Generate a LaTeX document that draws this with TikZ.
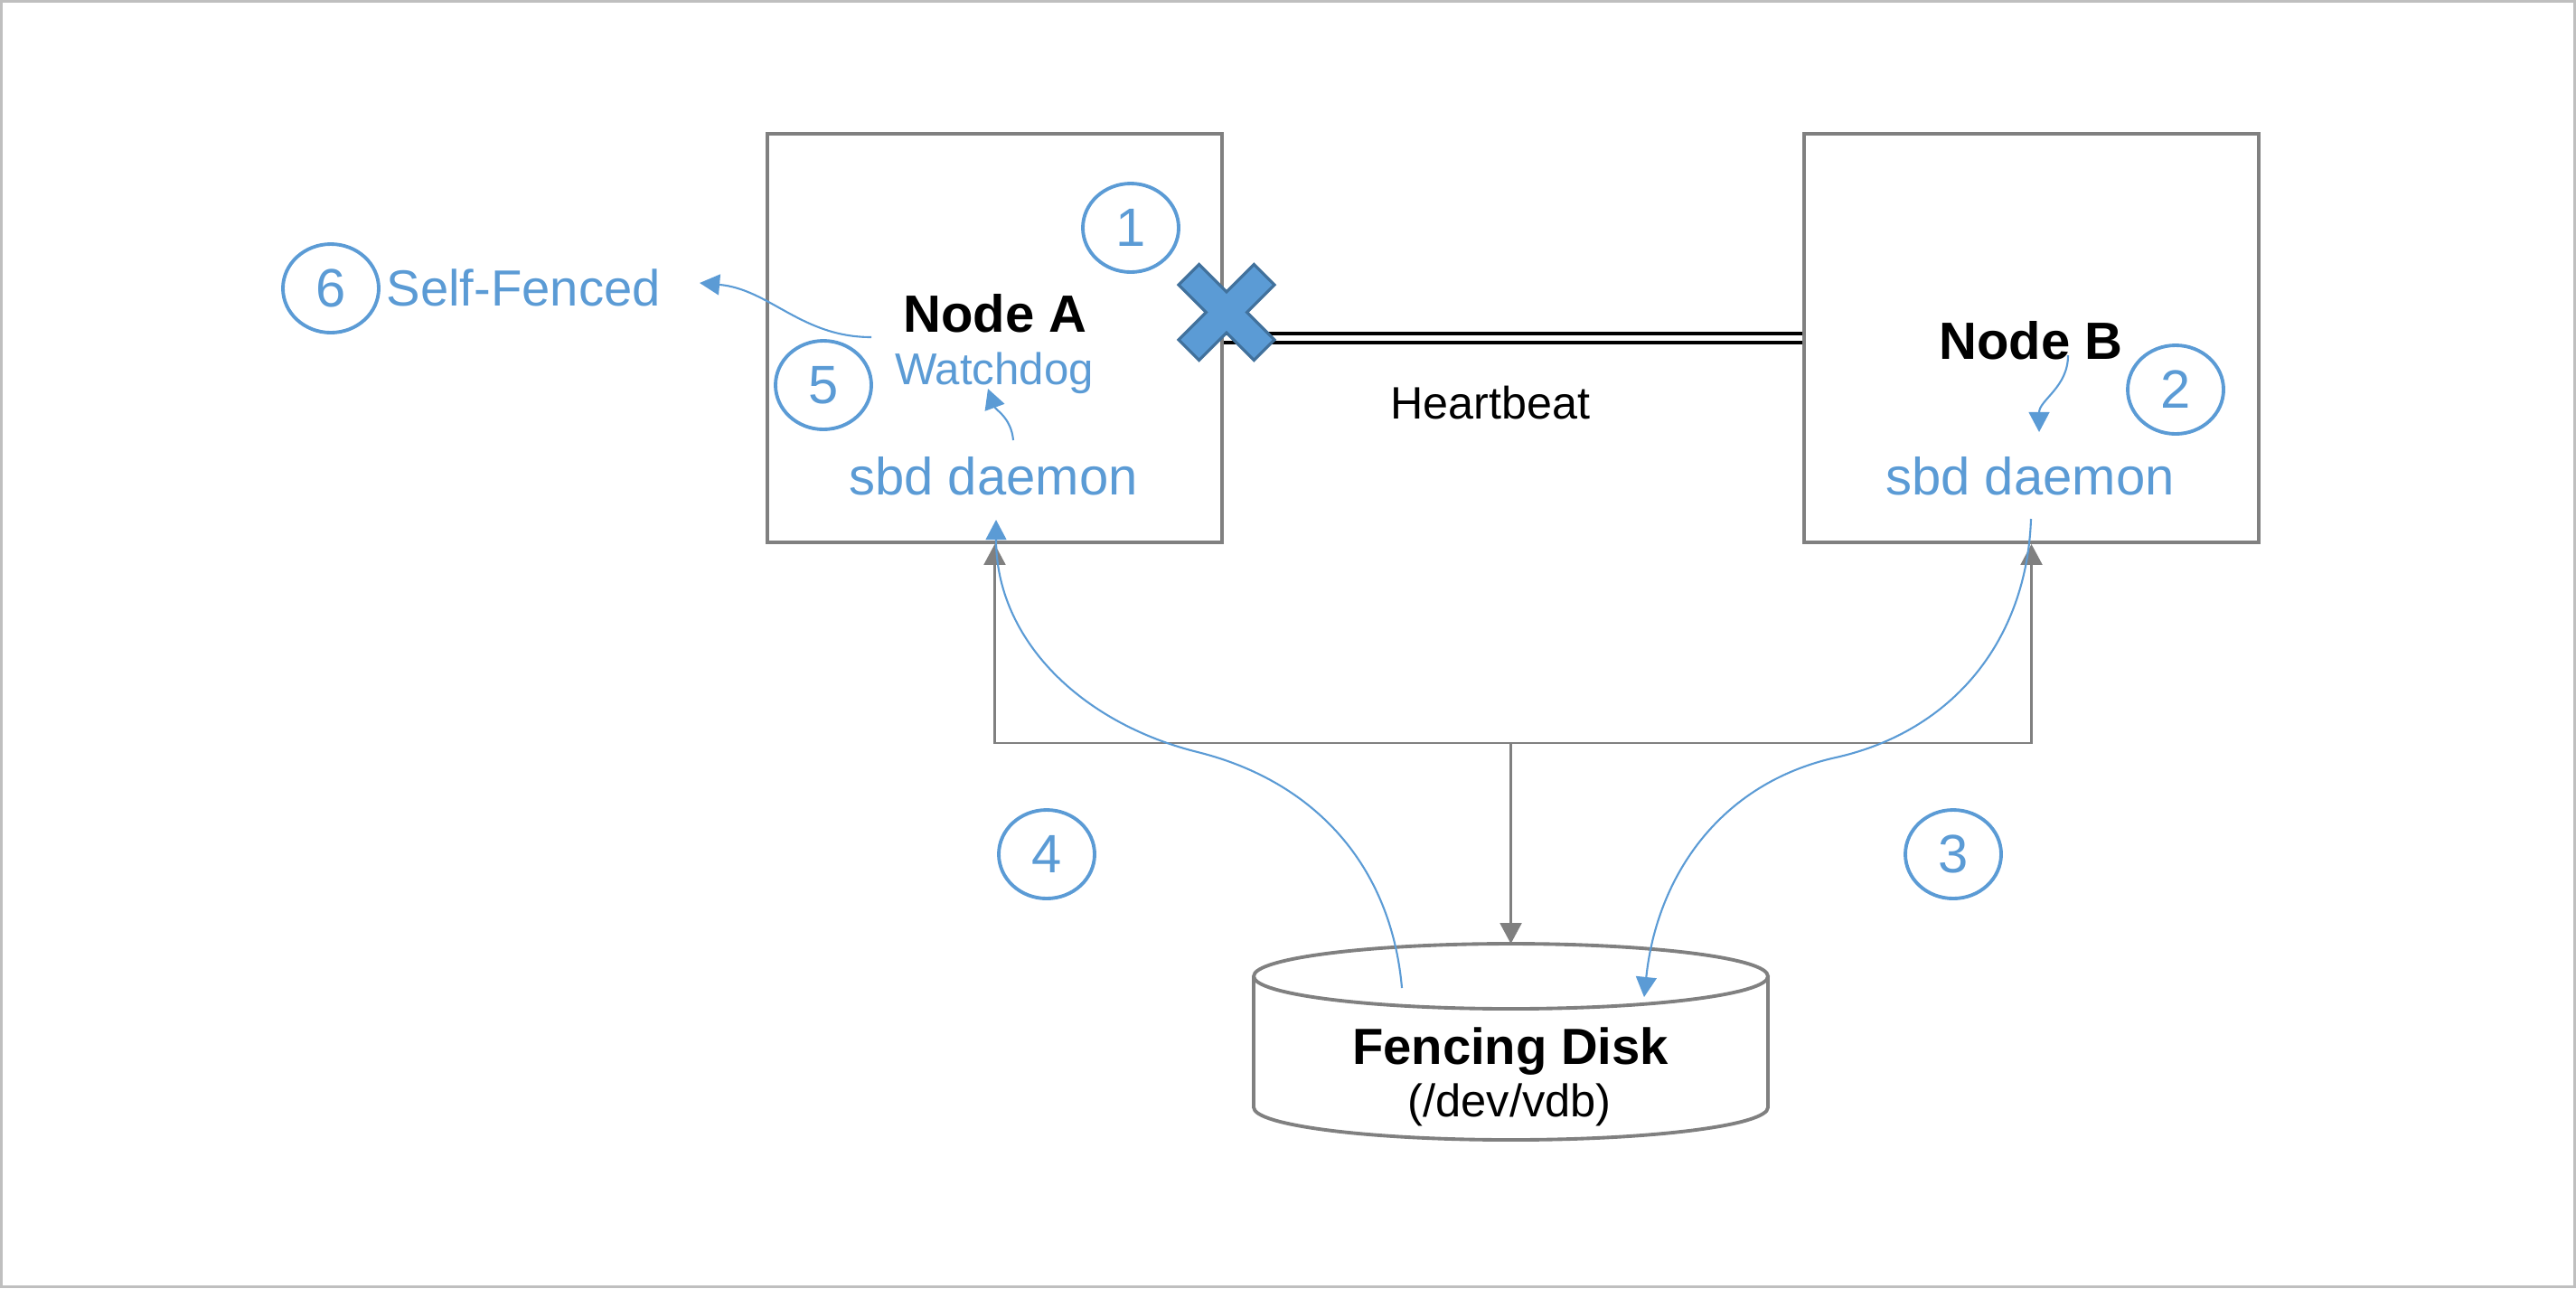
\documentclass[tikz,border=0pt]{standalone}
\usepackage{fontspec}
\setmainfont{Liberation Sans}
\usepackage{tikz}
\usetikzlibrary{arrows.meta, shapes.geometric, positioning}
\definecolor{SBD_Blue}{HTML}{5B9BD5}
\definecolor{SBD_Edge}{HTML}{41719C}
\definecolor{SBD_Gray}{HTML}{808080}
\definecolor{SBD_Frame}{HTML}{BFBFBF}

\tikzset{
  hostbox/.style={draw=SBD_Gray, line width=1.1pt, minimum width=5.03cm, minimum height=4.52cm, inner sep=0pt},
  hosttitle/.style={anchor=base, inner sep=0pt, font=\fontsize{16.5}{20}\selectfont\bfseries},
  bluelbl/.style={anchor=base, inner sep=0pt, text=SBD_Blue, font=\fontsize{16.5}{20}\selectfont},
  stepnum/.style={ellipse, draw=SBD_Blue, line width=1.1pt, minimum width=1.06cm, minimum height=0.98cm,
    inner sep=0pt, text=SBD_Blue, font=\fontsize{17}{20}\selectfont},
  busline/.style={draw=SBD_Gray, line width=0.6pt},
  bustip/.style={busline, -{Triangle[length=6.5pt, width=6.8pt]}},
  flow/.style={draw=SBD_Blue, line width=0.6pt, -{Triangle[length=6.3pt, width=6.5pt]}},
}

\begin{document}
\begin{tikzpicture}
    % Frame
    \useasboundingbox (0,0) rectangle (28.5,-14.25);
    \draw[SBD_Frame, line width=0.85pt] (0.015,-0.015) rectangle (28.485,-14.235);

    % Hosts
    \node[hostbox] (boxA) at (11.005,-3.74) {};
    \node[hostbox] (boxB) at (22.475,-3.74) {};
    \node[hosttitle] (titleA) at (11.01,-3.67) {Node A};
    \node[hosttitle] (titleB) at (22.47,-3.97) {Node B};
    \node[bluelbl, font=\fontsize{14}{17}\selectfont] (dogA) at (11.00,-4.25) {Watchdog};
    \node[bluelbl] (sbdA) at (10.99,-5.47) {sbd daemon};
    \node[bluelbl] (sbdB) at (22.46,-5.47) {sbd daemon};

    % Heartbeat link
    \draw[line width=1.15pt, double, double distance=1.7pt] (boxA.east) -- (boxB.west);
    \node[anchor=base, inner sep=0pt, font=\fontsize{14.3}{17}\selectfont] (beat) at (16.49,-4.63) {Heartbeat};

    % Broken link mark
    \draw[fill=SBD_Blue, draw=SBD_Edge, line width=0.9pt, shift={(13.57,-3.455)}, rotate=45]
        (0.16,0.16) -- (0.59,0.16) -- (0.59,-0.16) -- (0.16,-0.16) -- (0.16,-0.59) -- (-0.16,-0.59)
        -- (-0.16,-0.16) -- (-0.59,-0.16) -- (-0.59,0.16) -- (-0.16,0.16) -- (-0.16,0.59) -- (0.16,0.59) -- cycle;

    % Fencing disk
    \draw[SBD_Gray, line width=1.1pt, fill=white] (13.87,-10.80) -- (13.87,-12.25)
        arc[start angle=180, end angle=360, x radius=2.845, y radius=0.36] -- (19.56,-10.80);
    \draw[SBD_Gray, line width=1.1pt] (16.715,-10.80) ellipse [x radius=2.845, y radius=0.36];
    \coordinate (diskTop) at (16.715,-10.44);
    \node[hosttitle, font=\fontsize{16}{19}\selectfont\bfseries] (disk) at (16.71,-11.77) {Fencing Disk};
    \node[anchor=base, inner sep=0pt, font=\fontsize{14.4}{17}\selectfont] (dev) at (16.70,-12.35) {(/dev/vdb)};

    % Shared access
    \coordinate (busL) at (11.005,-8.22);
    \coordinate (busR) at (22.475,-8.22);
    \coordinate (busM) at (16.715,-8.22);
    \draw[busline, {Triangle[length=6.5pt, width=6.8pt]}-{Triangle[length=6.5pt, width=6.8pt]}]
        (boxA.south) -- (busL) -- (busR) -- (boxB.south);
    \draw[bustip] (busM) -- (diskTop);

    % Steps
    \node[stepnum] (s1) at (12.51,-2.52) {1};
    \node[stepnum] (s2) at (24.07,-4.31) {2};
    \node[stepnum] (s3) at (21.61,-9.45) {3};
    \node[stepnum] (s4) at (11.58,-9.45) {4};
    \node[stepnum] (s5) at (9.11,-4.26) {5};
    \node[stepnum] (s6) at (3.66,-3.19) {6};
    \node[bluelbl, anchor=base west, font=\fontsize{16}{19}\selectfont] (fenced) at (4.27,-3.38) {Self-Fenced};

    % Flows
    \coordinate (lossB) at (22.88,-3.93);
    \coordinate (seeB) at (22.56,-4.78);
    \draw[flow] (lossB) to[out=-90, in=90] (seeB);

    \coordinate (writeB) at (22.47,-5.74);
    \coordinate (midB) at (20.31,-8.38);
    \coordinate (slotA) at (18.19,-11.03);
    \draw[flow] (writeB) to[out=-92, in=12.6] (midB) to[out=-167.4, in=84] (slotA);

    \coordinate (pillA) at (15.51,-10.93);
    \coordinate (midA) at (13.25,-8.32);
    \coordinate (readA) at (11.02,-5.75);
    \draw[flow] (pillA) to[out=95, in=-14] (midA) to[out=166, in=-90] (readA);

    \coordinate (feedA) at (11.21,-4.87);
    \coordinate (dogTip) at (10.93,-4.30);
    \draw[flow] (feedA) to[out=95, in=-70] (dogTip);

    \coordinate (resetA) at (9.64,-3.73);
    \coordinate (fenceTip) at (7.74,-3.13);
    \draw[flow] (resetA) to[out=180, in=-5] (fenceTip);
\end{tikzpicture}
\end{document}
